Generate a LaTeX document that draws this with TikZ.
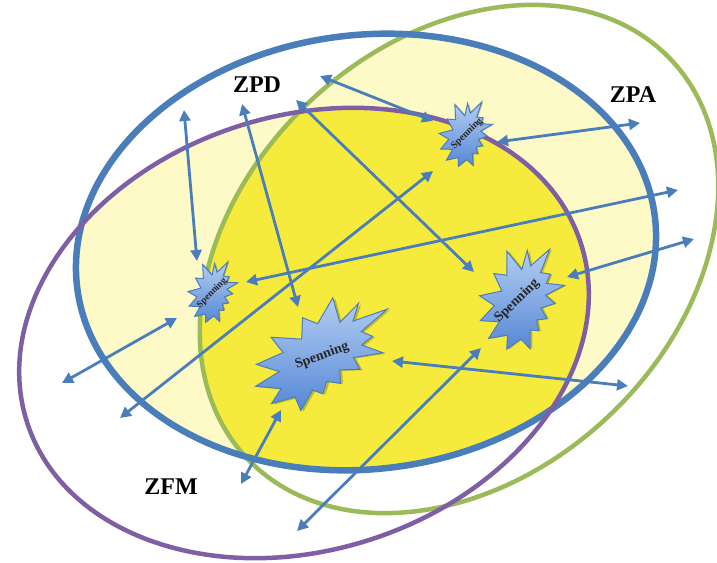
\documentclass[tikz,border=0pt]{standalone}
\usepackage{fontspec}
\setmainfont{Liberation Serif}
\usetikzlibrary{arrows.meta}
\definecolor{ringblue}{HTML}{4A7EBB}
\definecolor{ringpurple}{HTML}{7F5FA3}
\definecolor{ringgreen}{HTML}{9BBB59}
\definecolor{lightyel}{HTML}{FDFAC8}
\definecolor{brightyel}{HTML}{F6EB3C}
\definecolor{arrowblue}{HTML}{4A7EBB}
\definecolor{startop}{HTML}{B4CDF2}
\definecolor{starbot}{HTML}{5588D6}
\definecolor{starline}{HTML}{4A7EBB}
\newcommand\boomshape{(114.62,43.42) -- (147.90,0) -- (145.25,57.77) -- (180.07,31.72) -- (163.80,65.32) -- (216,66.45) -- (169.85,94.02) -- (182.70,112.90) -- (163.80,123.10) -- (188.77,156.32) -- (146.40,143.50) -- (149.42,173.70) -- (121.80,159.35) -- (116.12,188.42) -- (98.72,173.70) -- (87.00,197.12) -- (75.27,181.25) -- (49.17,216) -- (48.05,182.40) -- (12.85,178.25) -- (33.30,153.70) -- (0,128.77) -- (39.35,115.92) -- (11.72,82.70) -- (53.72,78.17) -- (45.02,36.25) -- (85.50,63.82) -- (97.22,18.87) -- cycle}
\newcommand\boom[5]{%
  \begin{scope}[shift={(#1,#2)},rotate=#5,xscale=#3/216,yscale=#4/216,shift={(-108,-108)}]
    \fill[black,opacity=.22,shift={(3,4)}] \boomshape;
    \shade[top color=startop,bottom color=starbot,draw=starline,line width=1pt] \boomshape;
  \end{scope}}
\tikzset{
  ring/.style={line width=#1},
  twoway/.style={arrowblue,line width=2.8pt,{Triangle[length=11pt,width=11pt]}-{Triangle[length=11pt,width=11pt]}},
  zone/.style={font=\fontsize{24}{24}\selectfont\bfseries,anchor=base,inner sep=0pt},
  spen/.style={font=\bfseries,inner sep=0pt,text=black!85}
}
\begin{document}
\begin{tikzpicture}[x=1pt,y=-1pt]
\useasboundingbox (0,0) rectangle (717,562);
% fills
\begin{scope}
  \clip[rotate around={7:(366,252)}] (366,252) ellipse [x radius=291, y radius=217];
  \fill[lightyel,rotate around={18:(304,333)}] (304,333) ellipse [x radius=291, y radius=217];
  \fill[lightyel,rotate around={43:(459,259)}] (459,259) ellipse [x radius=291, y radius=217];
  \clip[rotate around={18:(304,333)}] (304,333) ellipse [x radius=291, y radius=217];
  \fill[brightyel,rotate around={43:(459,259)}] (459,259) ellipse [x radius=291, y radius=217];
\end{scope}
% rings
\draw[ringgreen,ring=4.5pt,rotate around={43:(459,259)}] (459,259) ellipse [x radius=291, y radius=217];
\draw[ringblue,ring=6.5pt,rotate around={7:(366,252)}] (366,252) ellipse [x radius=291, y radius=217];
\draw[ringpurple,ring=4.5pt,rotate around={18:(304,333)}] (304,333) ellipse [x radius=291, y radius=217];
% labels
\node[zone] (zpd) at (257,92) {ZPD};
\node[zone] (zpa) at (633,102) {ZPA};
\node[zone] (zfm) at (171,494) {ZFM};
% arrow ends
\coordinate (a1) at (184,110); \coordinate (a2) at (197,261);
\coordinate (b1) at (242,104); \coordinate (b2) at (298,307);
\coordinate (c1) at (296,100); \coordinate (c2) at (474,272);
\coordinate (d1) at (320,76);  \coordinate (d2) at (433,121);
\coordinate (e1) at (497,142); \coordinate (e2) at (640,123);
\coordinate (f1) at (246,282); \coordinate (f2) at (678,190);
\coordinate (g1) at (567,277); \coordinate (g2) at (694,239);
\coordinate (h1) at (177,318); \coordinate (h2) at (62,383);
\coordinate (i1) at (433,171); \coordinate (i2) at (120,418);
\coordinate (j1) at (392,361); \coordinate (j2) at (628,386);
\coordinate (k1) at (281,410); \coordinate (k2) at (241,484);
\coordinate (l1) at (481,348); \coordinate (l2) at (297,531);
\foreach \p in {a,b,c,d,e,f,g,h,i,j,k,l} {\draw[twoway] (\p1) -- (\p2);}
% explosions
\boom{323}{352}{150}{95}{20}
\boom{522}{297}{105}{88}{42}
\boom{213}{291}{62}{52}{45}
\boom{466}{133}{66}{56}{45}
\node[spen,rotate=20,font=\fontsize{14}{14}\selectfont\bfseries] (s1) at (322,356) {Spenning};
\node[spen,rotate=44,font=\fontsize{14}{14}\selectfont\bfseries] (s2) at (517,301) {Spenning};
\node[spen,rotate=45,font=\fontsize{9.5}{10}\selectfont\bfseries] (s3) at (212,293) {Spenning};
\node[spen,rotate=45,font=\fontsize{10}{10}\selectfont\bfseries] (s4) at (467,134) {Spenning};
\end{tikzpicture}
\end{document}
